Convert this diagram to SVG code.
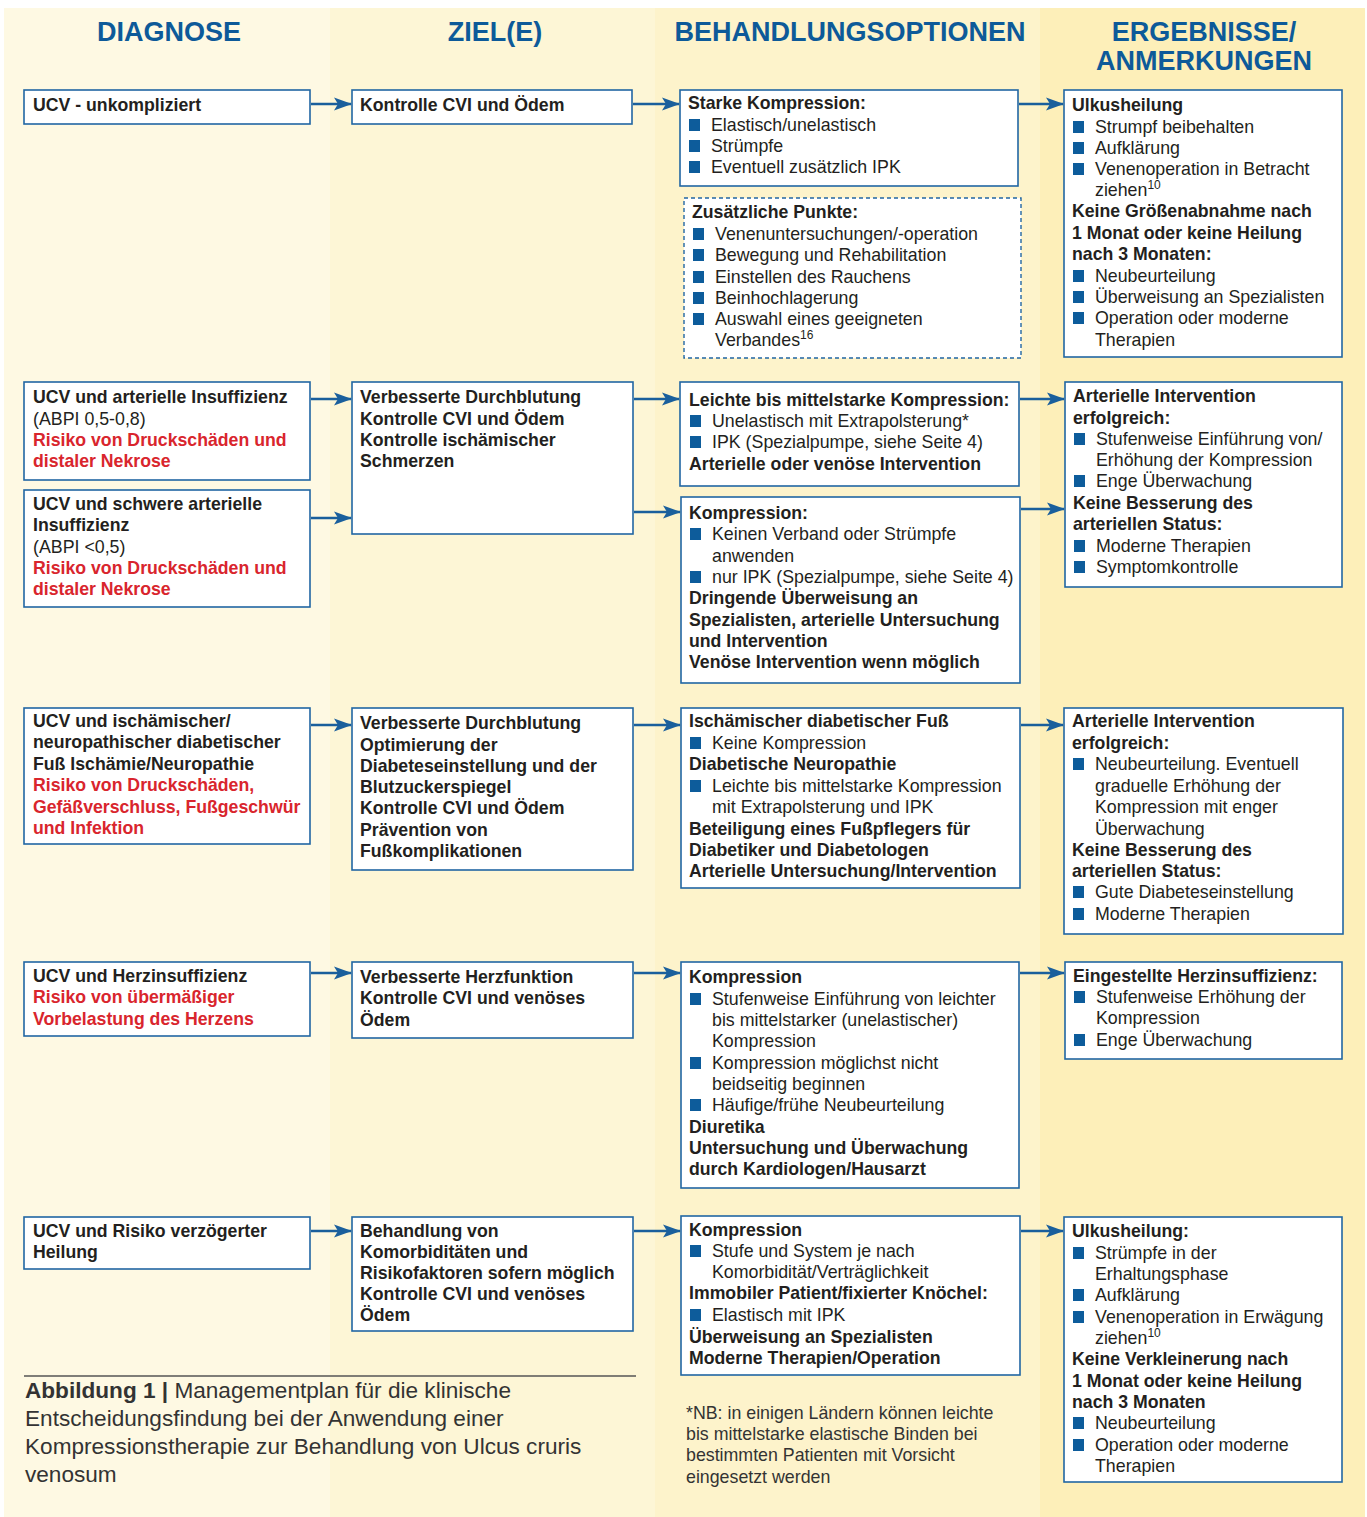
<svg xmlns="http://www.w3.org/2000/svg" width="1367" height="1517" viewBox="0 0 1367 1517">
<defs>
<style>
text{font-family:"Liberation Sans",Arial,Helvetica,sans-serif;font-size:17.8px;fill:#231f20}
.b{font-weight:bold;font-size:17.7px}
.red{fill:#d9252d}
.hd{font-size:27px;font-weight:bold;fill:#0d5a99;text-anchor:middle}
.box{fill:#fff;stroke:#2166a3;stroke-width:1.6}
.dash{fill:#fff;stroke:#2166a3;stroke-width:1.4;stroke-dasharray:4 3}
.bul{fill:#0d5c9b}
.con{stroke:#1a5f9c;stroke-width:2.6;fill:none;marker-end:url(#ah)}
.cap{font-size:22.6px;fill:#333}
.cap .b{font-size:22.6px}
.fn{fill:#333}
.sup{font-size:12px}
</style>
<marker id="ah" markerWidth="18" markerHeight="14" refX="17" refY="7" orient="auto" markerUnits="userSpaceOnUse">
<path d="M0,0.5 L18,7 L0,13.5 L4,7 Z" fill="#1a5f9c"/>
</marker>
<rect id="bu" width="11" height="12" class="bul"/>
</defs>

<!-- background columns -->
<rect x="0" y="0" width="1367" height="1517" fill="#ffffff"/>
<rect x="4" y="8" width="326" height="1509" fill="#fef9e3"/>
<rect x="330" y="8" width="325" height="1509" fill="#fdf6d6"/>
<rect x="655" y="8" width="385" height="1509" fill="#fdf3cb"/>
<rect x="1040" y="8" width="325" height="1509" fill="#fdefb9"/>

<!-- headers -->
<g id="headers">
<text class="hd" x="169" y="41">DIAGNOSE</text>
<text class="hd" x="495" y="41">ZIEL(E)</text>
<text class="hd" x="850" y="41">BEHANDLUNGSOPTIONEN</text>
<text class="hd" x="1204" y="41">ERGEBNISSE/</text>
<text class="hd" x="1204" y="70">ANMERKUNGEN</text>
</g>

<!-- connectors -->
<g id="connectors">
<line class="con" x1="311" y1="104" x2="351" y2="104"/>
<line class="con" x1="633" y1="104" x2="679" y2="104"/>
<line class="con" x1="1019" y1="104" x2="1063" y2="104"/>
<line class="con" x1="311" y1="399" x2="351" y2="399"/>
<line class="con" x1="311" y1="518" x2="351" y2="518"/>
<line class="con" x1="634" y1="399" x2="679" y2="399"/>
<line class="con" x1="634" y1="512" x2="680" y2="512"/>
<line class="con" x1="1020" y1="399" x2="1064" y2="399"/>
<line class="con" x1="1021" y1="509" x2="1064" y2="509"/>
<line class="con" x1="311" y1="725" x2="351" y2="725"/>
<line class="con" x1="634" y1="725" x2="680" y2="725"/>
<line class="con" x1="1021" y1="725" x2="1063" y2="725"/>
<line class="con" x1="311" y1="973" x2="351" y2="973"/>
<line class="con" x1="634" y1="973" x2="680" y2="973"/>
<line class="con" x1="1020" y1="973" x2="1064" y2="973"/>
<line class="con" x1="311" y1="1231" x2="351" y2="1231"/>
<line class="con" x1="634" y1="1231" x2="680" y2="1231"/>
<line class="con" x1="1021" y1="1231" x2="1063" y2="1231"/>
</g>

<!-- Row 1 -->
<g id="d1">
<rect class="box" x="24" y="90" width="286" height="34"/>
<text class="b" x="33" y="111">UCV - unkompliziert</text>
</g>
<g id="z1">
<rect class="box" x="352" y="90" width="280" height="34"/>
<text class="b" x="360" y="111">Kontrolle CVI und Ödem</text>
</g>
<g id="b1">
<rect class="box" x="680" y="90" width="338" height="96"/>
<text class="b" x="688" y="109">Starke Kompression:</text>
<use href="#bu" x="689" y="119"/><text x="711" y="131">Elastisch/unelastisch</text>
<use href="#bu" x="689" y="140"/><text x="711" y="152">Strümpfe</text>
<use href="#bu" x="689" y="161"/><text x="711" y="173">Eventuell zusätzlich IPK</text>
</g>
<g id="b1x">
<rect class="dash" x="684" y="198" width="337" height="160"/>
<text class="b" x="692" y="218">Zusätzliche Punkte:</text>
<use href="#bu" x="693" y="228"/><text x="715" y="240">Venenuntersuchungen/-operation</text>
<use href="#bu" x="693" y="249"/><text x="715" y="261">Bewegung und Rehabilitation</text>
<use href="#bu" x="693" y="271"/><text x="715" y="283">Einstellen des Rauchens</text>
<use href="#bu" x="693" y="292"/><text x="715" y="304">Beinhochlagerung</text>
<use href="#bu" x="693" y="313"/><text x="715" y="325">Auswahl eines geeigneten</text>
<text x="715" y="346">Verbandes<tspan class="sup" dy="-7">16</tspan></text>
</g>
<g id="e1">
<rect class="box" x="1064" y="90" width="278" height="267"/>
<text class="b" x="1072" y="111">Ulkusheilung</text>
<use href="#bu" x="1073" y="121"/><text x="1095" y="133">Strumpf beibehalten</text>
<use href="#bu" x="1073" y="142"/><text x="1095" y="154">Aufklärung</text>
<use href="#bu" x="1073" y="163"/><text x="1095" y="175">Venenoperation in Betracht</text>
<text x="1095" y="196">ziehen<tspan class="sup" dy="-7">10</tspan></text>
<text class="b" x="1072" y="217">Keine Größenabnahme nach</text>
<text class="b" x="1072" y="239">1 Monat oder keine Heilung</text>
<text class="b" x="1072" y="260">nach 3 Monaten:</text>
<use href="#bu" x="1073" y="270"/><text x="1095" y="282">Neubeurteilung</text>
<use href="#bu" x="1073" y="291"/><text x="1095" y="303">Überweisung an Spezialisten</text>
<use href="#bu" x="1073" y="312"/><text x="1095" y="324">Operation oder moderne</text>
<text x="1095" y="346">Therapien</text>
</g>

<!-- Row 2 -->
<g id="d2a">
<rect class="box" x="24" y="382" width="286" height="98"/>
<text class="b" x="33" y="403">UCV und arterielle Insuffizienz</text>
<text x="33" y="425">(ABPI 0,5-0,8)</text>
<text class="b red" x="33" y="446">Risiko von Druckschäden und</text>
<text class="b red" x="33" y="467">distaler Nekrose</text>
</g>
<g id="d2b">
<rect class="box" x="24" y="490" width="286" height="117"/>
<text class="b" x="33" y="510">UCV und schwere arterielle</text>
<text class="b" x="33" y="531">Insuffizienz</text>
<text x="33" y="553">(ABPI &lt;0,5)</text>
<text class="b red" x="33" y="574">Risiko von Druckschäden und</text>
<text class="b red" x="33" y="595">distaler Nekrose</text>
</g>
<g id="z2">
<rect class="box" x="352" y="382" width="281" height="152"/>
<text class="b" x="360" y="403">Verbesserte Durchblutung</text>
<text class="b" x="360" y="425">Kontrolle CVI und Ödem</text>
<text class="b" x="360" y="446">Kontrolle ischämischer</text>
<text class="b" x="360" y="467">Schmerzen</text>
</g>
<g id="b2a">
<rect class="box" x="680" y="382" width="339" height="104"/>
<text class="b" x="689" y="406">Leichte bis mittelstarke Kompression:</text>
<use href="#bu" x="690" y="415"/><text x="712" y="427">Unelastisch mit Extrapolsterung*</text>
<use href="#bu" x="690" y="436"/><text x="712" y="448">IPK (Spezialpumpe, siehe Seite 4)</text>
<text class="b" x="689" y="470">Arterielle oder venöse Intervention</text>
</g>
<g id="b2b">
<rect class="box" x="681" y="497" width="339" height="186"/>
<text class="b" x="689" y="519">Kompression:</text>
<use href="#bu" x="690" y="528"/><text x="712" y="540">Keinen Verband oder Strümpfe</text>
<text x="712" y="562">anwenden</text>
<use href="#bu" x="690" y="571"/><text x="712" y="583">nur IPK (Spezialpumpe, siehe Seite 4)</text>
<text class="b" x="689" y="604">Dringende Überweisung an</text>
<text class="b" x="689" y="626">Spezialisten, arterielle Untersuchung</text>
<text class="b" x="689" y="647">und Intervention</text>
<text class="b" x="689" y="668">Venöse Intervention wenn möglich</text>
</g>
<g id="e2">
<rect class="box" x="1065" y="382" width="277" height="205"/>
<text class="b" x="1073" y="402">Arterielle Intervention</text>
<text class="b" x="1073" y="424">erfolgreich:</text>
<use href="#bu" x="1074" y="433"/><text x="1096" y="445">Stufenweise Einführung von/</text>
<text x="1096" y="466">Erhöhung der Kompression</text>
<use href="#bu" x="1074" y="475"/><text x="1096" y="487">Enge Überwachung</text>
<text class="b" x="1073" y="509">Keine Besserung des</text>
<text class="b" x="1073" y="530">arteriellen Status:</text>
<use href="#bu" x="1074" y="540"/><text x="1096" y="552">Moderne Therapien</text>
<use href="#bu" x="1074" y="561"/><text x="1096" y="573">Symptomkontrolle</text>
</g>

<!-- Row 3 -->
<g id="d3">
<rect class="box" x="24" y="708" width="286" height="136"/>
<text class="b" x="33" y="727">UCV und ischämischer/</text>
<text class="b" x="33" y="748">neuropathischer diabetischer</text>
<text class="b" x="33" y="770">Fuß Ischämie/Neuropathie</text>
<text class="b red" x="33" y="791">Risiko von Druckschäden,</text>
<text class="b red" x="33" y="813">Gefäßverschluss, Fußgeschwür</text>
<text class="b red" x="33" y="834">und Infektion</text>
</g>
<g id="z3">
<rect class="box" x="352" y="708" width="281" height="162"/>
<text class="b" x="360" y="729">Verbesserte Durchblutung</text>
<text class="b" x="360" y="751">Optimierung der</text>
<text class="b" x="360" y="772">Diabeteseinstellung und der</text>
<text class="b" x="360" y="793">Blutzuckerspiegel</text>
<text class="b" x="360" y="814">Kontrolle CVI und Ödem</text>
<text class="b" x="360" y="836">Prävention von</text>
<text class="b" x="360" y="857">Fußkomplikationen</text>
</g>
<g id="b3">
<rect class="box" x="681" y="708" width="339" height="180"/>
<text class="b" x="689" y="727">Ischämischer diabetischer Fuß</text>
<use href="#bu" x="690" y="737"/><text x="712" y="749">Keine Kompression</text>
<text class="b" x="689" y="770">Diabetische Neuropathie</text>
<use href="#bu" x="690" y="780"/><text x="712" y="792">Leichte bis mittelstarke Kompression</text>
<text x="712" y="813">mit Extrapolsterung und IPK</text>
<text class="b" x="689" y="835">Beteiligung eines Fußpflegers für</text>
<text class="b" x="689" y="856">Diabetiker und Diabetologen</text>
<text class="b" x="689" y="877">Arterielle Untersuchung/Intervention</text>
</g>
<g id="e3">
<rect class="box" x="1064" y="708" width="279" height="226"/>
<text class="b" x="1072" y="727">Arterielle Intervention</text>
<text class="b" x="1072" y="749">erfolgreich:</text>
<use href="#bu" x="1073" y="758"/><text x="1095" y="770">Neubeurteilung. Eventuell</text>
<text x="1095" y="792">graduelle Erhöhung der</text>
<text x="1095" y="813">Kompression mit enger</text>
<text x="1095" y="835">Überwachung</text>
<text class="b" x="1072" y="856">Keine Besserung des</text>
<text class="b" x="1072" y="877">arteriellen Status:</text>
<use href="#bu" x="1073" y="886"/><text x="1095" y="898">Gute Diabeteseinstellung</text>
<use href="#bu" x="1073" y="908"/><text x="1095" y="920">Moderne Therapien</text>
</g>

<!-- Row 4 -->
<g id="d4">
<rect class="box" x="24" y="962" width="286" height="74"/>
<text class="b" x="33" y="982">UCV und Herzinsuffizienz</text>
<text class="b red" x="33" y="1003">Risiko von übermäßiger</text>
<text class="b red" x="33" y="1025">Vorbelastung des Herzens</text>
</g>
<g id="z4">
<rect class="box" x="352" y="962" width="281" height="76"/>
<text class="b" x="360" y="983">Verbesserte Herzfunktion</text>
<text class="b" x="360" y="1004">Kontrolle CVI und venöses</text>
<text class="b" x="360" y="1026">Ödem</text>
</g>
<g id="b4">
<rect class="box" x="681" y="962" width="338" height="226"/>
<text class="b" x="689" y="983">Kompression</text>
<use href="#bu" x="690" y="993"/><text x="712" y="1005">Stufenweise Einführung von leichter</text>
<text x="712" y="1026">bis mittelstarker (unelastischer)</text>
<text x="712" y="1047">Kompression</text>
<use href="#bu" x="690" y="1057"/><text x="712" y="1069">Kompression möglichst nicht</text>
<text x="712" y="1090">beidseitig beginnen</text>
<use href="#bu" x="690" y="1099"/><text x="712" y="1111">Häufige/frühe Neubeurteilung</text>
<text class="b" x="689" y="1133">Diuretika</text>
<text class="b" x="689" y="1154">Untersuchung und Überwachung</text>
<text class="b" x="689" y="1175">durch Kardiologen/Hausarzt</text>
</g>
<g id="e4">
<rect class="box" x="1065" y="962" width="277" height="97"/>
<text class="b" x="1073" y="982">Eingestellte Herzinsuffizienz:</text>
<use href="#bu" x="1074" y="991"/><text x="1096" y="1003">Stufenweise Erhöhung der</text>
<text x="1096" y="1024">Kompression</text>
<use href="#bu" x="1074" y="1034"/><text x="1096" y="1046">Enge Überwachung</text>
</g>

<!-- Row 5 -->
<g id="d5">
<rect class="box" x="24" y="1217" width="286" height="52"/>
<text class="b" x="33" y="1237">UCV und Risiko verzögerter</text>
<text class="b" x="33" y="1258">Heilung</text>
</g>
<g id="z5">
<rect class="box" x="352" y="1217" width="281" height="114"/>
<text class="b" x="360" y="1237">Behandlung von</text>
<text class="b" x="360" y="1258">Komorbiditäten und</text>
<text class="b" x="360" y="1279">Risikofaktoren sofern möglich</text>
<text class="b" x="360" y="1300">Kontrolle CVI und venöses</text>
<text class="b" x="360" y="1321">Ödem</text>
</g>
<g id="b5">
<rect class="box" x="681" y="1216" width="339" height="159"/>
<text class="b" x="689" y="1236">Kompression</text>
<use href="#bu" x="690" y="1245"/><text x="712" y="1257">Stufe und System je nach</text>
<text x="712" y="1278">Komorbidität/Verträglichkeit</text>
<text class="b" x="689" y="1299">Immobiler Patient/fixierter Knöchel:</text>
<use href="#bu" x="690" y="1309"/><text x="712" y="1321">Elastisch mit IPK</text>
<text class="b" x="689" y="1343">Überweisung an Spezialisten</text>
<text class="b" x="689" y="1364">Moderne Therapien/Operation</text>
</g>
<g id="e5">
<rect class="box" x="1064" y="1217" width="278" height="265"/>
<text class="b" x="1072" y="1237">Ulkusheilung:</text>
<use href="#bu" x="1073" y="1247"/><text x="1095" y="1259">Strümpfe in der</text>
<text x="1095" y="1280">Erhaltungsphase</text>
<use href="#bu" x="1073" y="1289"/><text x="1095" y="1301">Aufklärung</text>
<use href="#bu" x="1073" y="1311"/><text x="1095" y="1323">Venenoperation in Erwägung</text>
<text x="1095" y="1344">ziehen<tspan class="sup" dy="-7">10</tspan></text>
<text class="b" x="1072" y="1365">Keine Verkleinerung nach</text>
<text class="b" x="1072" y="1387">1 Monat oder keine Heilung</text>
<text class="b" x="1072" y="1408">nach 3 Monaten</text>
<use href="#bu" x="1073" y="1417"/><text x="1095" y="1429">Neubeurteilung</text>
<use href="#bu" x="1073" y="1439"/><text x="1095" y="1451">Operation oder moderne</text>
<text x="1095" y="1472">Therapien</text>
</g>

<!-- Caption and footnote -->
<g id="caption">
<line x1="24" y1="1376" x2="636" y2="1376" stroke="#555" stroke-width="1.5"/>
<text class="cap" x="25" y="1398"><tspan class="b">Abbildung 1 |</tspan> Managementplan für die klinische</text>
<text class="cap" x="25" y="1426">Entscheidungsfindung bei der Anwendung einer</text>
<text class="cap" x="25" y="1454">Kompressionstherapie zur Behandlung von Ulcus cruris</text>
<text class="cap" x="25" y="1482">venosum</text>
</g>
<g id="footnote">
<text class="fn" x="686" y="1419">*NB: in einigen Ländern können leichte</text>
<text class="fn" x="686" y="1440">bis mittelstarke elastische Binden bei</text>
<text class="fn" x="686" y="1461">bestimmten Patienten mit Vorsicht</text>
<text class="fn" x="686" y="1483">eingesetzt werden</text>
</g>
</svg>
